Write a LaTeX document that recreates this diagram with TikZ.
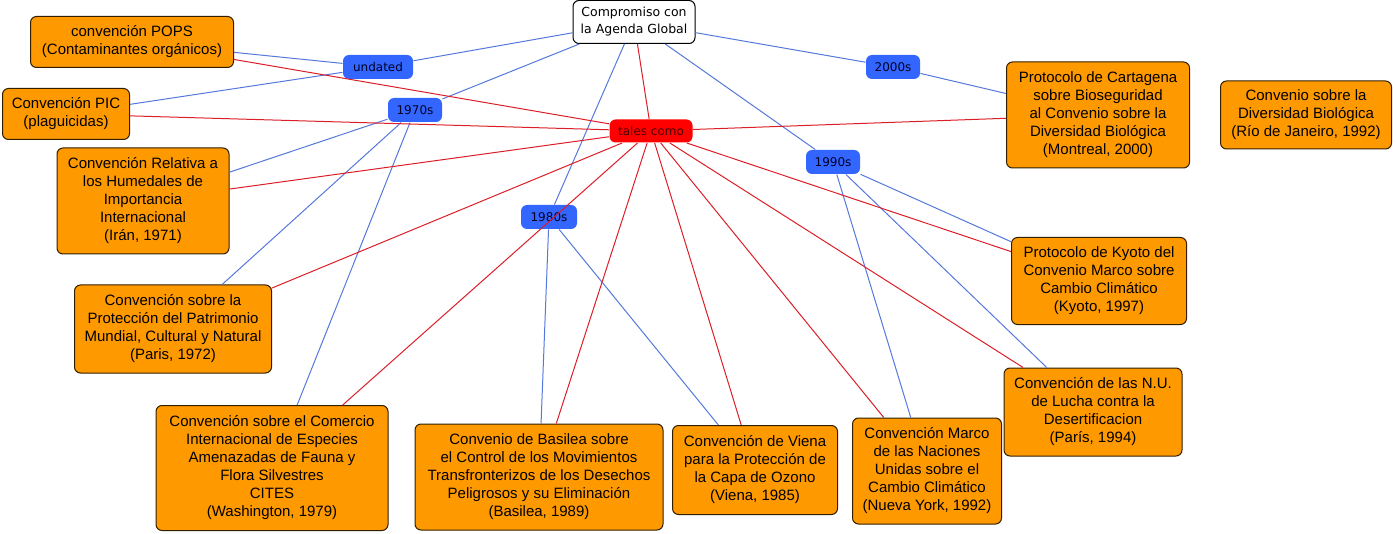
\documentclass[tikz,border=0pt]{standalone}
\usepackage{fontspec}
\setmainfont{Liberation Sans}
\newfontfamily\tagfont{DejaVu Sans}
\usetikzlibrary{shapes}
\definecolor{conv_orange}{RGB}{255,153,0}
\definecolor{tag_blue}{RGB}{51,102,255}
\definecolor{tag_red}{RGB}{255,0,0}
\definecolor{link_blue}{RGB}{85,120,220}
\definecolor{link_red}{RGB}{220,30,40}
\tikzset{
	mapnode/.style = {
		align=center,
		inner sep=0pt,
		text centered,
		rounded corners=6pt,
		line width=1pt
	},
	node_root/.style = {
		mapnode,
		draw=black,
		fill=white,
		font=\tagfont\fontsize{12.5}{17}\selectfont
	},
	node_year/.style = {
		mapnode,
		fill=tag_blue,
		text=black!85!blue,
		font=\tagfont\fontsize{12}{14}\selectfont,
		minimum width=54pt,
		minimum height=24pt
	},
	node_tales/.style = {
		node_year,
		fill=tag_red,
		text=black!70!red,
		minimum width=83pt,
		minimum height=23pt
	},
	node_conv/.style = {
		mapnode,
		draw=black!80!conv_orange,
		fill=conv_orange,
		font=\fontsize{15}{18}\selectfont
	},
	link_b/.style = {draw=link_blue, line width=1pt},
	link_r/.style = {draw=link_red, line width=1pt},
}

\begin{document}
\begin{tikzpicture}[x=1pt,y=-1pt]
\useasboundingbox (0,0) rectangle (1396,534);

\node [node_root, minimum width=122pt, minimum height=43pt] (agenda) at (634,22) {Compromiso con\\la Agenda Global};
\node [node_tales] (tales) at (651,131) {tales como};
\node [node_year, minimum width=70pt] (undated) at (378,67) {undated};
\node [node_year] (y1970) at (415,110) {1970s};
\node [node_year, minimum width=56pt] (y1980) at (549,217) {1980s};
\node [node_year] (y1990) at (833,162) {1990s};
\node [node_year] (y2000) at (893,67) {2000s};

\node [node_conv, minimum width=203pt, minimum height=51pt] (pops) at (132,42) {convención POPS\\(Contaminantes orgánicos)};
\node [node_conv, minimum width=127pt, minimum height=51pt] (pic) at (66,114) {Convención PIC\\(plaguicidas)};
\node [node_conv, minimum width=172pt, minimum height=106pt] (ramsar) at (143,201) {Convención Relativa a\\los Humedales de\\Importancia\\Internacional\\(Irán, 1971)};
\node [node_conv, minimum width=197pt, minimum height=88pt] (patrimonio) at (173,329) {Convención sobre la\\Protección del Patrimonio\\Mundial, Cultural y Natural\\(Paris, 1972)};
\node [node_conv, minimum width=232pt, minimum height=125pt] (cites) at (272,468) {Convención sobre el Comercio\\Internacional de Especies\\Amenazadas de Fauna y\\Flora Silvestres\\CITES\\(Washington, 1979)};
\node [node_conv, minimum width=248pt, minimum height=106pt] (basilea) at (539,477) {Convenio de Basilea sobre\\el Control de los Movimientos\\Transfronterizos de los Desechos\\Peligrosos y su Eliminación\\(Basilea, 1989)};
\node [node_conv, minimum width=165pt, minimum height=89pt] (viena) at (755,470) {Convención de Viena\\para la Protección de\\la Capa de Ozono\\(Viena, 1985)};
\node [node_conv, minimum width=149pt, minimum height=106pt] (marco) at (927,471) {Convención Marco\\de las Naciones\\Unidas sobre el\\Cambio Climático\\(Nueva York, 1992)};
\node [node_conv, minimum width=178pt, minimum height=88pt] (desert) at (1093,412) {Convención de las N.U.\\de Lucha contra la\\Desertificacion\\(París, 1994)};
\node [node_conv, minimum width=175pt, minimum height=87pt] (kyoto) at (1099,281) {Protocolo de Kyoto del\\Convenio Marco sobre\\Cambio Climático\\(Kyoto, 1997)};
\node [node_conv, minimum width=183pt, minimum height=106pt] (cartagena) at (1098,115) {Protocolo de Cartagena\\sobre Bioseguridad\\al Convenio sobre la\\Diversidad Biológica\\(Montreal, 2000)};
\node [node_conv, minimum width=171pt, minimum height=68pt] (biodiv) at (1306,115) {Convenio sobre la\\Diversidad Biológica\\(Río de Janeiro, 1992)};

\draw [link_b] (agenda) -- (undated);
\draw [link_b] (agenda) -- (y1970);
\draw [link_b] (agenda) -- (y1980);
\draw [link_b] (agenda) -- (y1990);
\draw [link_b] (agenda) -- (y2000);
\draw [link_r] (agenda) -- (tales);

\draw [link_b] (undated) -- (pops);
\draw [link_b] (undated) -- (pic);
\draw [link_b] (y1970) -- (ramsar);
\draw [link_b] (y1970) -- (patrimonio);
\draw [link_b] (y1970) -- (cites);
\draw [link_b] (y1980) -- (basilea);
\draw [link_b] (y1980) -- (viena);
\draw [link_b] (y1990) -- (kyoto);
\draw [link_b] (y1990) -- (desert);
\draw [link_b] (y1990) -- (marco);
\draw [link_b] (y2000) -- (cartagena);

\foreach \conv in {pops,pic,ramsar,patrimonio,cites,basilea,viena,marco,desert,kyoto,cartagena}
	\draw [link_r] (tales) -- (\conv);
\end{tikzpicture}
\end{document}
